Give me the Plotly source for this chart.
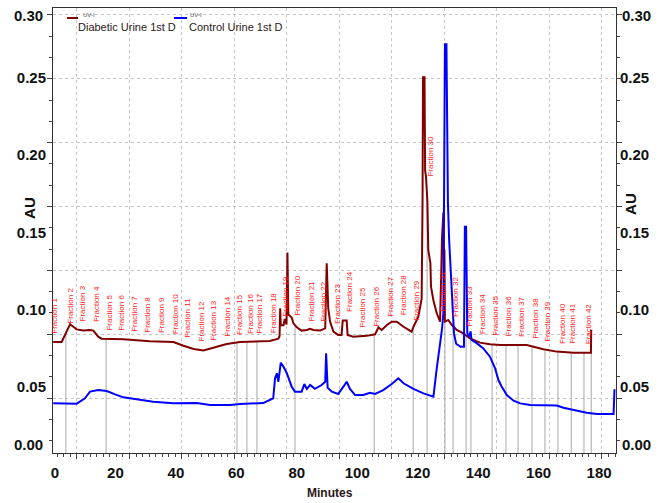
import numpy as np
import plotly.graph_objects as go

# Diabetic urine, first day (UV-I): retention time in minutes, absorbance in AU
diabetic_min = [
    -0.6, 2.2, 4.98, 7.17, 9.37, 11.6, 12.7, 14.3, 15.4, 22.6,
    31.4, 39.2, 42.5, 45.9, 49.1, 52.4, 56.8, 61.2, 71.1, 73.9,
    74.3, 74.5, 74.7, 75.6, 76.0, 76.6, 76.9, 77.2, 78.3, 78.9,
    80.0, 81.6, 83.3, 84.4, 85.5, 87.7, 89.4, 89.9, 90.4, 91.0,
    92.1, 93.7, 94.8, 95.2, 96.5, 96.8, 98.7, 103.1, 105.9, 107.0,
    108.1, 109.8, 111.4, 113.1, 115.3, 118.0, 118.6, 120.2, 121.3, 121.6,
    121.75, 122.25, 122.45, 122.75, 123.2, 123.5, 123.85, 124.2, 124.4, 125.2,
    126.3, 127.4, 128.05, 128.3, 128.5, 128.7, 128.85, 129.0, 130.1, 131.3,
    132.9, 135.1, 137.3, 140.6, 143.9, 147.3, 156.1, 158.3, 161.6, 166.0,
    171.5, 177.3, 177.4,
]
diabetic_au = [
    0.0792, 0.0792, 0.0906, 0.0873, 0.0865, 0.0869, 0.0865, 0.0826, 0.0813, 0.0809,
    0.0796, 0.0791, 0.0767, 0.0746, 0.0737, 0.0754, 0.0778, 0.0791, 0.0798, 0.0813,
    0.0830, 0.1010, 0.0900, 0.0900, 0.0940, 0.0905, 0.1370, 0.0970, 0.0950, 0.0912,
    0.0886, 0.0865, 0.0869, 0.0877, 0.0869, 0.0865, 0.0880, 0.1300, 0.1010, 0.0923,
    0.0858, 0.0837, 0.0837, 0.0930, 0.0930, 0.0837, 0.0826, 0.0831, 0.0841, 0.0886,
    0.0869, 0.0901, 0.0923, 0.0923, 0.0890, 0.0858, 0.0890, 0.0955, 0.1070, 0.1700,
    0.2504, 0.2504, 0.1900, 0.1860, 0.1700, 0.1387, 0.1340, 0.1300, 0.1150, 0.1060,
    0.0977, 0.0923, 0.1470, 0.1630, 0.1630, 0.1100, 0.1390, 0.0923, 0.0934, 0.0901,
    0.0869, 0.0847, 0.0815, 0.0787, 0.0776, 0.0772, 0.0772, 0.0761, 0.0744, 0.0729,
    0.0722, 0.0722, 0.0870,
]

# Control urine, first day (UV-I)
control_min = [
    -0.6, 7.2, 9.9, 11.6, 14.3, 17.1, 19.9, 22.6, 27.0, 32.5,
    39.2, 46.9, 51.3, 57.9, 61.2, 68.9, 72.2, 72.8, 73.4, 73.9,
    74.7, 75.6, 76.7, 78.3, 79.4, 81.6, 82.5, 83.3, 84.4, 86.0,
    88.2, 89.4, 89.7, 90.2, 91.6, 93.7, 95.4, 96.5, 97.6, 99.3,
    102.0, 104.2, 105.9, 108.6, 111.4, 113.6, 115.3, 118.6, 121.9, 125.2,
    126.3, 127.4, 128.0, 128.5, 129.0, 129.5, 129.8, 130.0, 130.4, 130.8,
    131.1, 131.4, 132.0, 132.7, 134.2, 135.3, 135.6, 136.0, 136.15, 136.4,
    137.0, 137.5, 137.8, 139.6, 141.7, 143.9, 145.6, 146.7, 147.8, 149.5,
    151.7, 153.9, 157.2, 166.0, 168.2, 172.6, 175.9, 179.3, 184.8, 185.1,
]
control_au = [
    0.0394, 0.0392, 0.0427, 0.0470, 0.0480, 0.0474, 0.0452, 0.0433, 0.0420, 0.0405,
    0.0394, 0.0396, 0.0383, 0.0383, 0.0390, 0.0396, 0.0427, 0.0556, 0.0589, 0.0534,
    0.0657, 0.0631, 0.0589, 0.0502, 0.0470, 0.0470, 0.0519, 0.0488, 0.0513, 0.0488,
    0.0513, 0.0534, 0.0718, 0.0495, 0.0470, 0.0455, 0.0502, 0.0534, 0.0488, 0.0448,
    0.0448, 0.0463, 0.0455, 0.0480, 0.0519, 0.0556, 0.0524, 0.0488, 0.0459, 0.0437,
    0.0620, 0.0780, 0.0869, 0.0977, 0.2718, 0.2718, 0.2000, 0.1690, 0.1450, 0.1300,
    0.1110, 0.1060, 0.0847, 0.0780, 0.0760, 0.0760, 0.1537, 0.1537, 0.1320, 0.0850,
    0.0826, 0.0860, 0.0804, 0.0782, 0.0750, 0.0696, 0.0621, 0.0545, 0.0502, 0.0448,
    0.0411, 0.0394, 0.0383, 0.0380, 0.0366, 0.0345, 0.0334, 0.0325, 0.0325, 0.0485,
]

# Fraction collector event marks (minutes)
fraction_marks_min = [
    3.6, 16.9, 60.2, 63.5, 66.8, 79.4, 105.6, 118.5, 123.1, 129.0, 131.7,
    136.0, 137.6, 144.6, 149.2, 153.2, 157.8, 162.1, 166.4, 170.8, 175.0, 177.4,
]
# Fraction label times (minutes) and names
fraction_label_min = [
    0.0, 5.0, 9.2, 13.8, 18.2, 22.1, 26.5, 30.8, 35.3, 39.7,
    44.0, 48.5, 52.6, 57.1, 61.2, 64.5, 67.8, 72.1, 76.1, 80.4,
    84.9, 89.0, 93.5, 97.6, 101.9, 106.5, 110.9, 115.2, 119.5, 124.1,
    128.3, 132.7, 137.0, 141.5, 145.9, 149.9, 154.4, 158.8, 163.1, 167.7,
    171.4, 176.4,
]
fraction_names = [f"Fraction {n}" for n in range(1, len(fraction_label_min) + 1)]

minute_ticks = list(range(0, 181, 20))
au_ticks = [0.05, 0.10, 0.15, 0.20, 0.25]
au_edge_labels = ["0.30", "0.00"]
series_names = ["Diabetic Urine 1st D", "Control Urine 1st D"]
detector = "UV-I"

MAROON = "#800000"
BLUE = "#0000ff"
LABEL_RED = "#ff1a1a"
X_RANGE = [-0.66, 185.6]
Y_RANGE = [0.00728, 0.2953]
FONT = "Arial, Liberation Sans, sans-serif"
tick_font = dict(family=FONT, size=15, color="#111111", weight="bold")

fig = go.Figure()

# fraction marks: vertical rules from the floor up to the diabetic trace
mx, my = [], []
for t in fraction_marks_min:
    mx += [t, t, None]
    my += [0.0, float(np.interp(t, diabetic_min, diabetic_au)), None]
fig.add_trace(go.Scatter(x=mx, y=my, mode="lines",
                         line=dict(color="#a8a8a8", width=1),
                         hoverinfo="skip", showlegend=False))

fig.add_trace(go.Scatter(x=diabetic_min, y=diabetic_au, mode="lines",
                         line=dict(color=MAROON, width=2), name=series_names[0]))
fig.add_trace(go.Scatter(x=control_min, y=control_au, mode="lines",
                         line=dict(color=BLUE, width=2), name=series_names[1]))

# carriers for the frame/grid axes and the right-hand AU axis
fig.add_trace(go.Scatter(x=[None], y=[None], xaxis="x2", yaxis="y3",
                         showlegend=False, hoverinfo="skip"))
fig.add_trace(go.Scatter(x=[None], y=[None], xaxis="x", yaxis="y2",
                         showlegend=False, hoverinfo="skip"))

au_text = [f"{v:.2f}" for v in au_ticks]
fig.update_layout(
    width=663, height=503,
    margin=dict(l=53, r=47, t=8, b=50),
    paper_bgcolor="white", plot_bgcolor="white",
    showlegend=False,
    xaxis=dict(range=X_RANGE, tickmode="array", tickvals=minute_ticks,
               ticks="", showgrid=False, zeroline=False, showline=False,
               tickfont=tick_font, ticklabelstandoff=9),
    yaxis=dict(range=Y_RANGE, tickmode="array", tickvals=au_ticks, ticktext=au_text,
               ticks="", showgrid=False, zeroline=False, showline=False,
               tickfont=tick_font, ticklabelstandoff=6),
    yaxis2=dict(overlaying="y", side="right", anchor="x", matches="y",
                range=Y_RANGE, tickmode="array", tickvals=au_ticks, ticktext=au_text,
                ticks="", showgrid=False, zeroline=False, showline=False,
                tickfont=tick_font, ticklabelstandoff=3),
    # frame, tick marks and dotted grid
    xaxis2=dict(overlaying="x", anchor="y", side="bottom",
                range=[-0.457, 10.267], tick0=0, dtick=1,
                showticklabels=False, ticks="outside", ticklen=5, tickcolor="#444444",
                showgrid=True, gridcolor="#c4c4c4", griddash="3px,3px", gridwidth=1,
                showline=True, linecolor="#333333", linewidth=1, mirror=True,
                zeroline=False,
                minor=dict(dtick=0.125, ticks="outside", ticklen=3,
                           tickcolor="#444444", showgrid=False)),
    yaxis3=dict(overlaying="y", anchor="x", side="left",
                range=[-0.861, 6.108], tick0=0, dtick=1,
                showticklabels=False, ticks="outside", ticklen=5, tickcolor="#444444",
                showgrid=True, gridcolor="#c4c4c4", griddash="3px,3px", gridwidth=1,
                showline=True, linecolor="#333333", linewidth=1, mirror="ticks",
                zeroline=False,
                minor=dict(dtick=1 / 3, ticks="outside", ticklen=3,
                           tickcolor="#444444", showgrid=False)),
)

ann = []
# fraction names, standing on the diabetic trace
for t, name in zip(fraction_label_min, fraction_names):
    level = float(np.interp(t - 1.2, diabetic_min, diabetic_au)) + 0.004
    ann.append(dict(x=t, y=level, xref="x", yref="y", text=name, showarrow=False,
                    textangle=-90, xanchor="center", yanchor="bottom",
                    font=dict(family=FONT, size=8, color=LABEL_RED)))

# end labels of both AU scales
for xp, xa, yp in [(-0.0142, "right", 0.984), (-0.0142, "right", 0.02),
                   (1.0071, "left", 0.984), (1.0071, "left", 0.018)]:
    txt = au_edge_labels[0] if yp > 0.5 else au_edge_labels[1]
    ann.append(dict(x=xp, y=yp, xref="paper", yref="paper", text=txt, showarrow=False,
                    xanchor=xa, yanchor="middle", font=tick_font))

# axis titles
title_font = dict(family=FONT, size=15, color="#111111", weight="bold")
ann.append(dict(x=-0.0409, y=0.5506, xref="paper", yref="paper", text="AU",
                showarrow=False, textangle=-90, xanchor="center", yanchor="middle",
                font=title_font))
ann.append(dict(x=1.0266, y=0.5596, xref="paper", yref="paper", text="AU",
                showarrow=False, textangle=-90, xanchor="center", yanchor="middle",
                font=title_font))
ann.append(dict(x=0.492, y=-0.0899, xref="paper", yref="paper", text="Minutes",
                showarrow=False, xanchor="center", yanchor="middle",
                font=dict(family=FONT, size=12, color="#2a1616", weight="bold")))

# legend block
legend_font = dict(family=FONT, size=11, color="#2b2020")
tiny_font = dict(family=FONT, size=6, color="#555555")
ann += [
    dict(x=0.0409, y=0.9573, xref="paper", yref="paper", text=series_names[0],
         showarrow=False, xanchor="left", yanchor="middle", font=legend_font),
    dict(x=0.238, y=0.9573, xref="paper", yref="paper", text=series_names[1],
         showarrow=False, xanchor="left", yanchor="middle", font=legend_font),
    dict(x=0.064, y=0.9850, xref="paper", yref="paper", text=detector,
         showarrow=False, xanchor="center", yanchor="middle", font=tiny_font),
    dict(x=0.254, y=0.9850, xref="paper", yref="paper", text=detector,
         showarrow=False, xanchor="center", yanchor="middle", font=tiny_font),
]
fig.update_layout(annotations=ann)

fig.update_layout(shapes=[
    dict(type="line", xref="paper", yref="paper", x0=0.0249, x1=0.0444,
         y0=0.9775, y1=0.9775, line=dict(color=MAROON, width=2)),
    dict(type="line", xref="paper", yref="paper", x0=0.2149, x1=0.238,
         y0=0.9775, y1=0.9775, line=dict(color=BLUE, width=2)),
])

fig.write_html("out.html")
